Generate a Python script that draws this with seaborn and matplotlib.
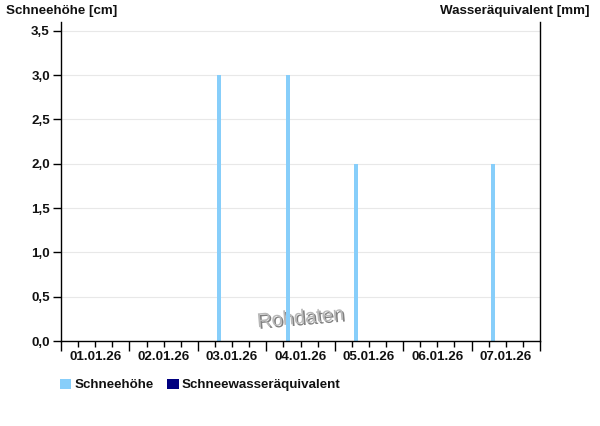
import matplotlib
matplotlib.use("Agg")
import matplotlib.pyplot as plt
import matplotlib.dates as mdates
import matplotlib.patheffects as pe
from matplotlib.patches import Patch
from matplotlib.ticker import MultipleLocator, FuncFormatter
import seaborn as sns
import pandas as pd
import numpy as np

# Data
dates = ["2026-01-01 07:30", "2026-01-02 07:30", "2026-01-03 07:30", "2026-01-04 07:30",
         "2026-01-05 07:30", "2026-01-06 07:30", "2026-01-07 07:30"]
schneehoehe = [0, 0, 3, 3, 2, 0, 2]
day_labels = ["01.01.26", "02.01.26", "03.01.26", "04.01.26", "05.01.26", "06.01.26", "07.01.26"]

sns.set_theme(style="white")
plt.rcParams['font.family'] = ['Liberation Sans', 'DejaVu Sans']
plt.rcParams['font.weight'] = 'bold'

df = pd.DataFrame({"t": mdates.date2num(pd.to_datetime(dates)), "v": schneehoehe})

fig = plt.figure(figsize=(6, 4.26), dpi=100)
ax = fig.add_axes([61/600, 1-341/426, (540-61)/600, (341-22)/426])

x0 = mdates.date2num(pd.Timestamp("2026-01-01"))
x1 = mdates.date2num(pd.Timestamp("2026-01-08"))

# watermark behind bars
ax.text(0.5, 0.072, "Rohdaten", transform=ax.transAxes, ha="center", va="center",
        fontsize=14.5, fontweight="normal", color="#b8b8b8", rotation=5, zorder=0.5,
        path_effects=[pe.withSimplePatchShadow(offset=(1.2, -1.2), shadow_rgbFace="#606060", alpha=0.8)])

sns.barplot(data=df, x="t", y="v", native_scale=True, width=0.058, color="#87CEFA",
            saturation=1, ax=ax, zorder=2, edgecolor="none", linewidth=0)

ax.set_xlim(x0, x1)
ax.set_ylim(0, 3.6)
ax.yaxis.set_major_locator(MultipleLocator(0.5))
ax.yaxis.set_major_formatter(FuncFormatter(lambda v, p: f"{v:.1f}".replace(".", ",")))
ax.grid(axis="y", color="#e8e8e8", linewidth=0.8, zorder=0)
ax.set_axisbelow(True)

# x ticks: majors at midnight, minors every 6 h, labels at noon
ax.set_xticks([x0 + i for i in range(8)])
ax.set_xticklabels([])
ax.set_xticks([x0 + i + f for i in range(7) for f in (0.25, 0.5, 0.75)], minor=True)
for i, lab in enumerate(day_labels):
    ax.text(x0 + i + 0.5, -0.031, lab, transform=ax.get_xaxis_transform(), ha="center", va="top",
            fontsize=9.6, fontweight="bold", color="#111111")
ax.tick_params(axis="x", which="major", length=7, width=1, color="black", direction="out", bottom=True)
ax.tick_params(axis="x", which="minor", length=4, width=1, color="black", direction="out", bottom=True)
ax.tick_params(axis="y", which="major", length=6, width=1, color="black", direction="out", left=True,
               labelsize=9.6, labelcolor="#111111", pad=2)
for l in ax.get_yticklabels():
    l.set_fontweight("bold")

ax.set_xlabel("")
ax.set_ylabel("")
for s in ["left", "bottom", "right"]:
    ax.spines[s].set_visible(True)
    ax.spines[s].set_color("black")
    ax.spines[s].set_linewidth(1)
ax.spines["top"].set_visible(False)

fig.text(6/600, 1-11/426, "Schneehöhe [cm]", ha="left", va="center", fontsize=9.6, fontweight="bold", color="#111111")
fig.text(589/600, 1-11/426, "Wasseräquivalent [mm]", ha="right", va="center", fontsize=9.6, fontweight="bold", color="#111111")

handles = [Patch(facecolor="#87CEFA", edgecolor="none", label="Schneehöhe"),
           Patch(facecolor="#000080", edgecolor="none", label="Schneewasseräquivalent")]
leg = fig.legend(handles=handles, loc="center left", bbox_to_anchor=(60/600, 1-385/426), ncol=2,
                 frameon=False, fontsize=9.6, handlelength=0.85, handleheight=0.85, handletextpad=0.25,
                 columnspacing=1.0, borderaxespad=0, borderpad=0)
for t in leg.get_texts():
    t.set_fontweight("bold")
    t.set_color("#111111")

fig.savefig("out.png", dpi=100)
